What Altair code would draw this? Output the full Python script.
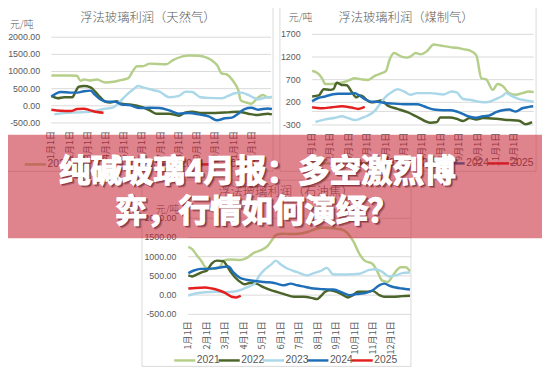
import altair as alt
import pandas as pd

YEARS = ["2021", "2022", "2023", "2024", "2025"]
COLORS = ["#b5cf8a", "#4a6429", "#abd8e9", "#1f6fb8", "#e41f1f"]
MONTH_LABELS = ["1月1日", "2月1日", "3月1日", "4月1日", "5月1日", "6月1日",
                "7月1日", "8月1日", "9月1日", "10月1日", "11月1日", "12月1日"]

TITLES = ["浮法玻璃利润（天然气）", "浮法玻璃利润（煤制气）", "浮法玻璃利润（石油焦）"]
UNIT = "元/吨"
HEADLINE = "纯碱玻璃4月报：多空激烈博\n弈，行情如何演绎？"

# ---- panel 1: natural gas (month, yuan/ton) ----
NG_TICKS = [-500, 0, 500, 1000, 1500, 2000]
NG_LABELS = ["-500.00", "0.00", "500.00", "1000.00", "1500.00", "2000.00"]
NG_2021 = [(0, 883), (0.5, 880), (1.0, 880), (1.4, 875), (1.6, 730), (1.8, 768), (2.1, 740), (2.5, 768),
           (2.95, 680), (3.4, 700), (3.8, 749), (4.2, 797), (4.5, 1037), (4.7, 1152), (5.0, 1152), (5.4, 1229),
           (6.3, 1210), (6.65, 1325), (7.2, 1440), (7.55, 1469), (8.1, 1460), (8.45, 1420), (8.8, 1325),
           (9.1, 1181), (9.35, 941), (9.6, 920), (10.0, 700), (10.25, 461), (10.4, 154), (10.7, 96),
           (10.97, 58), (11.25, 192), (11.6, 317), (11.9, 240), (12.1, 269)]
NG_2022 = [(0, 288), (0.34, 221), (0.7, 250), (1.15, 250), (1.33, 413), (1.5, 557), (1.8, 576), (2.15, 538),
           (2.4, 413), (2.68, 250), (2.95, 125), (3.22, 96), (3.6, 134), (3.86, 58), (4.3, 40), (5.03, -48),
           (5.4, -134), (5.75, -230), (6.47, -230), (7.0, -288), (7.37, -192), (7.73, -173), (8.27, -211),
           (9.0, -211), (9.7, -192), (10.25, -173), (10.8, -230), (11.33, -269), (11.87, -230), (12.1, -250)]
NG_2023 = [(0.16, -250), (0.7, -211), (1.42, -192), (2.14, -173), (2.86, -96), (3.4, -48), (3.77, 125),
           (4.13, 317), (4.5, 480), (4.76, 576), (5.03, 538), (5.57, 461), (5.93, 413), (6.47, 250),
           (7.0, 288), (7.37, 413), (7.73, 403), (8.18, 250), (8.63, 230), (9.35, 221), (9.7, 288),
           (10.07, 365), (10.43, 384), (10.8, 317), (11.33, 192), (11.87, 250), (12.1, 250)]
NG_2024 = [(0, 269), (0.52, 403), (1.06, 384), (1.42, 384), (1.78, 422), (2.14, 442), (2.4, 317), (2.68, 192),
           (3.04, 115), (3.5, 115), (3.86, 38), (4.3, 19), (4.85, -67), (5.4, -58), (5.93, -67), (6.47, -134),
           (7.0, -230), (7.55, -211), (8.1, -250), (8.63, -307), (9.08, -422), (9.53, -365), (9.9, -346),
           (10.25, -230), (10.6, -96), (10.97, -58), (11.33, -115), (11.87, -77), (12.1, -96)]
NG_2025 = [(0, -115), (0.52, -144), (1.06, -154), (1.42, -96), (1.78, -86), (2.14, -134), (2.5, -182), (2.86, -202)]

# ---- panel 2: coal gas ----
CG_TICKS = [-300, 200, 700, 1200, 1700]
CG_LABELS = ["-300", "200", "700", "1200", "1700"]
CG_2021 = [(0, 896), (0.36, 823), (0.54, 729), (0.71, 606), (1.07, 606), (1.43, 620), (1.96, 678), (2.32, 729),
           (2.68, 707), (3.04, 693), (3.39, 780), (3.75, 838), (4.02, 896), (4.2, 1128), (4.46, 1287),
           (4.82, 1215), (5.18, 1186), (5.36, 1215), (5.63, 1287), (5.89, 1258), (6.25, 1331), (6.61, 1476),
           (6.96, 1454), (7.5, 1418), (7.86, 1403), (8.21, 1374), (8.57, 1345), (8.93, 1237), (9.2, 729),
           (9.46, 707), (9.82, 475), (10.09, 606), (10.36, 562), (10.71, 403), (11.07, 367), (11.43, 403),
           (11.79, 439), (12.05, 425)]
CG_2022 = [(0, 330), (0.36, 352), (0.63, 490), (0.98, 475), (1.16, 490), (1.34, 635), (1.61, 584), (1.88, 577),
           (2.14, 439), (2.41, 309), (2.59, 352), (2.77, 330), (2.95, 258), (3.21, 200), (3.48, 214),
           (3.75, 243), (4.11, 128), (4.64, 55), (5.18, -18), (5.71, -119), (6.43, -250), (6.79, -235),
           (6.96, -134), (7.5, -134), (7.86, -163), (8.21, -213), (8.57, -148), (8.93, -177), (9.29, -148),
           (10.0, -163), (10.71, -192), (11.25, -206), (11.61, -286), (11.96, -235)]
CG_2023 = [(0.18, -235), (0.71, -177), (1.25, -141), (1.61, -105), (1.96, -148), (2.32, -192), (2.68, -148),
           (3.04, -90), (3.39, 4), (3.66, 149), (4.02, 330), (4.38, 439), (4.64, 490), (5.0, 439), (5.36, 367),
           (5.71, 403), (6.43, 403), (7.14, 374), (7.59, 439), (7.86, 418), (8.21, 272), (8.57, 258),
           (8.93, 222), (9.29, 200), (9.64, 214), (10.0, 272), (10.36, 345), (10.54, 403), (10.89, 330),
           (11.25, 272), (11.61, 243), (12.05, 214)]
CG_2024 = [(0, 222), (0.36, 301), (0.71, 330), (1.07, 374), (1.43, 389), (1.96, 389), (2.32, 403), (2.5, 367),
           (2.86, 272), (3.21, 214), (3.57, 214), (3.93, 186), (4.46, 171), (5.0, 157), (5.71, 157), (6.07, 113),
           (6.61, 41), (7.14, 26), (7.5, 26), (7.86, -3), (8.21, -61), (8.57, -119), (8.93, -141), (9.29, -105),
           (9.64, -90), (10.0, -18), (10.36, 26), (10.71, 41), (11.07, -3), (11.43, 70), (11.79, 99), (12.02, 113)]
CG_2025 = [(0, 91), (0.54, 70), (1.07, 91), (1.61, 113), (2.14, 84), (2.5, 55), (2.86, 99)]

# ---- panel 3: petroleum coke ----
PC_TICKS = [-500, 0, 500, 1000, 1500, 2000]
PC_LABELS = ["-500.00", "0.00", "500.00", "1000.00", "1500.00", "2000.00"]
PC_2021 = [(0, 1257), (0.21, 1197), (0.48, 1026), (0.75, 855), (0.92, 727), (1.2, 680), (1.5, 690), (1.75, 760),
           (1.9, 900), (2.3, 930), (2.79, 915), (3.14, 966), (3.59, 1111), (3.94, 1171), (4.3, 1283),
           (4.56, 1454), (4.74, 1565), (5.1, 1600), (5.5, 1590), (6.0, 1600), (6.5, 1650), (6.9, 1720),
           (7.3, 1760), (7.8, 1740), (8.3, 1710), (8.6, 1620), (8.92, 1411), (9.27, 1069), (9.54, 898),
           (9.98, 812), (10.25, 598), (10.48, 385), (10.78, 342), (11.14, 556), (11.49, 727), (11.76, 727),
           (12.0, 624)]
PC_2022 = [(0, 513), (0.21, 487), (0.48, 539), (0.75, 598), (1.01, 641), (1.28, 829), (1.55, 898), (1.9, 880),
           (2.08, 770), (2.34, 573), (2.7, 385), (3.06, 282), (3.32, 316), (3.68, 300), (4.03, 214), (4.39, 145),
           (4.83, 77), (5.19, 26), (5.72, -43), (6.25, -43), (6.79, -86), (6.96, -103), (7.14, -43), (7.41, 86),
           (7.67, 128), (8.03, 86), (8.38, 0), (8.65, -60), (8.92, 0), (9.18, 86), (9.63, 86), (9.98, 111),
           (10.34, 0), (10.6, -43), (11.05, -43), (11.58, -26), (12.0, -17)]
PC_2023 = [(0, -9), (0.39, 43), (0.92, 77), (1.46, 86), (1.99, 77), (2.52, 94), (2.88, 145), (3.23, 214),
           (3.59, 300), (3.85, 513), (4.12, 658), (4.48, 795), (4.74, 898), (5.01, 795), (5.36, 693), (5.9, 598),
           (6.43, 513), (6.79, 573), (7.14, 624), (7.5, 710), (7.85, 539), (8.56, 539), (9.27, 556), (9.8, 658),
           (10.16, 675), (10.52, 598), (10.87, 487), (11.23, 513), (11.58, 573), (12.0, 590)]
PC_2024 = [(0, 573), (0.3, 641), (0.66, 684), (1.1, 684), (1.46, 701), (1.81, 727), (2.17, 744), (2.43, 598),
           (2.79, 453), (3.14, 402), (3.59, 368), (4.12, 342), (4.65, 316), (5.19, 256), (5.54, 300), (5.9, 256),
           (6.34, 214), (6.79, 171), (7.32, 154), (7.85, 145), (8.38, 60), (8.74, 0), (9.09, 26), (9.63, 60),
           (9.98, 128), (10.34, 256), (10.6, 300), (10.96, 231), (11.23, 197), (11.58, 171), (12.0, 145)]
PC_2025 = [(0, 171), (0.39, 188), (0.92, 197), (1.28, 171), (1.63, 128), (1.99, 60), (2.34, -43), (2.61, -60),
           (2.84, -17)]

# ---- layout (reference-image pixels; page margin is subtracted) ----
M = 8
GRID = "#d9d9d9"
TXT = "#595959"
CJK = "Noto Sans CJK SC"
NUM = "Liberation Sans"
NARROW = "Liberation Sans Narrow, Liberation Sans"

PANELS = [
    dict(series=[NG_2021, NG_2022, NG_2023, NG_2024, NG_2025], ticks=NG_TICKS, labels=NG_LABELS,
         ydom=[-500, 2000], xr=[52, 274], yr=[121.9, 34.9], ylab_dx=-11.3, xlab_gap=8.0,
         title=TITLES[0], title_xy=(150, 15), unit_xy=(10, 23), frame=(3, 277, 3, 171),
         legend_x=25, legend_y=164),
    dict(series=[CG_2021, CG_2022, CG_2023, CG_2024, CG_2025], ticks=CG_TICKS + [0], labels=CG_LABELS,
         ydom=[-300, 1700], xr=[316.7, 540.7], yr=[124, 32], ylab_dx=-11.7, xlab_gap=7.7,
         title=TITLES[1], title_xy=(412, 15), unit_xy=(293, 15), frame=(284, 544, 4, 171),
         legend_x=315, legend_y=163),
    dict(series=[PC_2021, PC_2022, PC_2023, PC_2024, PC_2025], ticks=PC_TICKS, labels=PC_LABELS,
         ydom=[-500, 2000], xr=[191, 416], yr=[316.2, 218.7], ylab_dx=-12, xlab_gap=6.8,
         title=TITLES[2], title_xy=(290, 192), unit_xy=(158, 210), frame=(144, 417, 180, 369),
         legend_x=176.7, legend_y=363),
]

LEG_STEP = 45
LEG_SEG = 21.5

color_scale = alt.Scale(domain=YEARS, range=COLORS)
one = pd.DataFrame({"k": [0]})


def p(v):
    return v - M


layers = []

# frames
for P in PANELS:
    x0, x1, y0, y1 = P["frame"]
    layers.append(alt.Chart(one).mark_rect(fillOpacity=0, stroke=GRID, strokeWidth=1).encode(
        x=alt.value(p(x0)), x2=alt.value(p(x1)), y=alt.value(p(y0)), y2=alt.value(p(y1))))

for P in PANELS:
    xs = alt.Scale(domain=[0, 12], range=[p(v) for v in P["xr"]], nice=False, zero=False)
    ys = alt.Scale(domain=P["ydom"], range=[p(v) for v in P["yr"]], nice=False, zero=False)

    grid_df = pd.DataFrame({"v": P["ticks"], "x0": 0.0, "x1": 12.05})
    layers.append(alt.Chart(grid_df).mark_rule(color=GRID, strokeWidth=1).encode(
        x=alt.X("x0:Q", scale=xs, axis=None), x2="x1:Q",
        y=alt.Y("v:Q", scale=ys, axis=None)))

    rows = [(YEARS[i], m, v) for i, s in enumerate(P["series"]) for m, v in s]
    df = pd.DataFrame(rows, columns=["year", "m", "v"])
    layers.append(alt.Chart(df).mark_line(strokeWidth=2.5, interpolate="monotone").encode(
        x=alt.X("m:Q", scale=xs, axis=None),
        y=alt.Y("v:Q", scale=ys, axis=None),
        color=alt.Color("year:N", scale=color_scale, legend=None),
        order="m:Q"))

    ylab_df = pd.DataFrame({"v": P["ticks"][:len(P["labels"])], "t": P["labels"], "x0": 0.0})
    layers.append(alt.Chart(ylab_df).mark_text(align="right", baseline="middle", dx=P["ylab_dx"],
                                               fontSize=9, font=NUM, color=TXT).encode(
        x=alt.X("x0:Q", scale=xs, axis=None),
        y=alt.Y("v:Q", scale=ys, axis=None),
        text="t:N"))

    xlab_df = pd.DataFrame({"m": list(range(12)), "t": MONTH_LABELS, "vb": float(P["ydom"][0])})
    layers.append(alt.Chart(xlab_df).mark_text(angle=270, align="right", baseline="middle",
                                               dx=-P["xlab_gap"], fontSize=9.3, font=CJK, color=TXT).encode(
        x=alt.X("m:Q", scale=xs, axis=None),
        y=alt.Y("vb:Q", scale=ys, axis=None),
        text="t:N"))

    tx, ty = P["title_xy"]
    layers.append(alt.Chart(one).mark_text(text=P["title"], align="center", baseline="middle",
                                           fontSize=12.5, font=CJK, fontWeight=300, color=TXT).encode(
        x=alt.value(p(tx)), y=alt.value(p(ty))))
    ux, uy = P["unit_xy"]
    layers.append(alt.Chart(one).mark_text(text=UNIT, align="left", baseline="middle",
                                           fontSize=10, font=CJK, fontWeight=300, color=TXT).encode(
        x=alt.value(p(ux)), y=alt.value(p(uy))))

    # legend row drawn through its own index scale
    ls = alt.Scale(domain=[0, 5], range=[p(P["legend_x"]), p(P["legend_x"]) + 5 * LEG_STEP],
                   nice=False, zero=False)
    leg_df = pd.DataFrame({"year": YEARS, "i": [float(i) for i in range(5)],
                           "i2": [i + LEG_SEG / LEG_STEP for i in range(5)]})
    layers.append(alt.Chart(leg_df).mark_rule(strokeWidth=2.5).encode(
        x=alt.X("i:Q", scale=ls, axis=None), x2="i2:Q",
        y=alt.value(p(P["legend_y"])),
        color=alt.Color("year:N", scale=color_scale, legend=None)))
    layers.append(alt.Chart(leg_df).mark_text(align="left", baseline="middle", dx=LEG_SEG + 1.5,
                                              fontSize=10.5, font=NARROW, color=TXT).encode(
        x=alt.X("i:Q", scale=ls, axis=None),
        y=alt.value(p(P["legend_y"])),
        text="year:N"))

# banner
layers.append(alt.Chart(one).mark_rect(fill="#c41e30", opacity=0.55).encode(
    x=alt.value(-10), x2=alt.value(560), y=alt.value(p(134)), y2=alt.value(p(239))))

for dxy, op in [(2.2, 0.3), (1.3, 0.45)]:
    layers.append(alt.Chart(one).mark_text(text=HEADLINE, lineBreak="\n", lineHeight=40, align="center",
                                           baseline="middle", fontSize=32, font=CJK, fontWeight="bold",
                                           color="#5a1016", stroke="#5a1016", strokeWidth=1.2,
                                           opacity=op, dx=dxy, dy=dxy).encode(
        x=alt.value(p(261)), y=alt.value(p(172))))
layers.append(alt.Chart(one).mark_text(text=HEADLINE, lineBreak="\n", lineHeight=40, align="center",
                                       baseline="middle", fontSize=32, font=CJK, fontWeight="bold",
                                       color="white", stroke="white", strokeWidth=1.2).encode(
    x=alt.value(p(261)), y=alt.value(p(172))))

chart = alt.layer(*layers).resolve_scale(x="independent", y="independent").properties(
    width=542, height=366, padding=0, autosize=alt.AutoSizeParams(type="none"), background="white"
).configure_view(stroke=None)

chart.save("out.html", embed_options={"renderer": "svg", "actions": False})
